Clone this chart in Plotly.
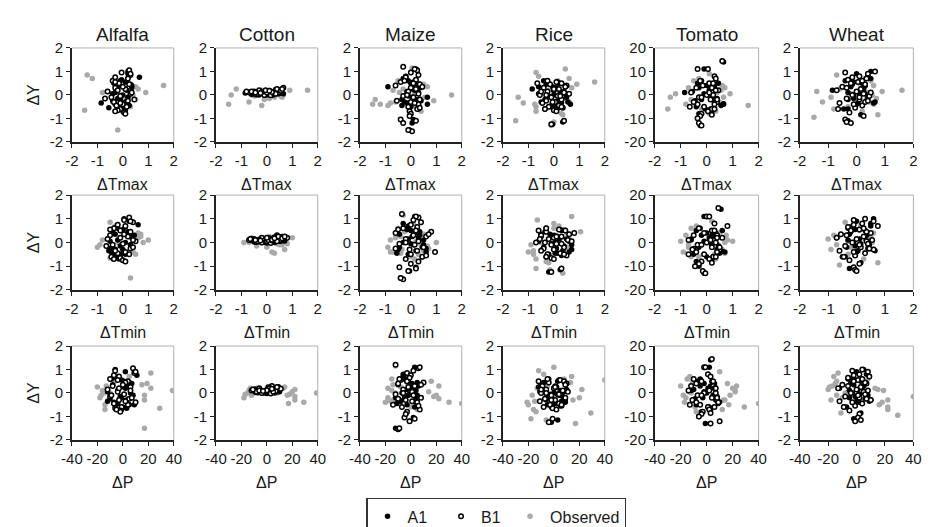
import plotly.graph_objects as go

# ---------------- labels ----------------
CROPS = ["Alfalfa", "Cotton", "Maize", "Rice", "Tomato", "Wheat"]
ROW_VARS = ["Tmax", "Tmin", "P"]
X_TITLES = ["ΔTmax", "ΔTmin", "ΔP"]
Y_TITLE = "ΔY"
SERIES = ["A1", "B1", "Observed"]
LEGEND_PAD = {"A1": "\u00a0\u00a0", "B1": "\u00a0", "Observed": ""}

T_TICKVALS = [-2, -1, 0, 1, 2]
T_TICKTEXT = ["-2", "-1", "0", "1", "2"]
P_TICKVALS = [-40, -20, 0, 20, 40]
P_TICKTEXT = ["-40", "-20", "0", "20", "40"]
Y_TICKVALS = [-2, -1, 0, 1, 2]
Y_TICKTEXT = ["-2", "-1", "0", "1", "2"]
TOMATO_Y_TICKVALS = [-20, -10, 0, 10, 20]
TOMATO_Y_TICKTEXT = ["-20", "-10", "0", "10", "20"]

# ---------------- Alfalfa ----------------
ALFALFA_A1_Y = [0.75, 0.55, 0.45, 0.35, 0.2, 0.1, 0.0, -0.1, -0.2, -0.3, -0.35, -0.4, -0.5, -0.55, -0.6, -0.7, 0.6, 0.3, -0.25, 1.0, 0.5, -0.45, 0.65, 0.4, -0.15, -0.65, 0.05, 0.25, -0.5, 0.9]
ALFALFA_A1_TMAX = [0.65, 0.1, 0.3, -0.2, 0.15, -0.3, 0.0, 0.2, -0.1, 0.1, -0.85, -0.3, 0.05, -0.55, -0.2, 0.0, -0.1, 0.35, -0.4, 0.2, -0.35, 0.25, -0.05, 0.35, -0.2, 0.1, -0.4, 0.1, -0.15, 0.2]
ALFALFA_A1_TMIN = [0.6, 0.0, 0.2, -0.3, 0.35, -0.2, 0.1, 0.3, -0.4, 0.0, -0.55, -0.45, -0.1, -0.3, -0.35, -0.15, -0.2, 0.45, -0.5, 0.05, -0.4, 0.1, 0.1, 0.3, -0.1, -0.2, -0.5, 0.2, 0.1, 0.25]
ALFALFA_A1_P = [11, -1, 5, -8, 2, -4, 6, 8, -1, 3, -12, -7, 5, -6, 0, -1, -9, 4, -10, -6, 1, -4, -8, 7, -2, 3, -12, 1, 9, 2]
ALFALFA_B1_Y = [1.05, 0.95, 0.85, 0.7, 0.6, 0.5, 0.45, 0.3, 0.25, 0.15, 0.05, -0.05, -0.15, -0.25, -0.3, -0.4, -0.45, -0.5, -0.6, -0.65, -0.75, -0.8, 0.55, -0.2, 0.9, 0.75, 0.35, 0.1, -0.1, -0.35, -0.7, 0.2]
ALFALFA_B1_TMAX = [0.25, -0.05, 0.3, 0.2, -0.4, -0.15, 0.25, -0.3, 0.1, -0.6, 0.3, -0.1, -0.7, 0.2, -0.35, 0.0, -0.25, 0.15, -0.1, -0.2, 0.05, 0.1, -0.3, 0.45, 0.3, -0.3, 0.0, 0.35, -0.45, -0.1, -0.3, -0.2]
ALFALFA_B1_TMIN = [0.25, 0.05, 0.4, 0.1, -0.35, -0.1, 0.3, -0.5, 0.2, -0.6, 0.5, 0.0, -0.65, 0.3, -0.3, 0.1, -0.2, 0.25, -0.45, -0.1, 0.0, 0.1, -0.5, 0.4, 0.3, -0.2, 0.05, 0.4, -0.4, -0.3, -0.35, -0.1]
ALFALFA_B1_P = [8, -6, 9, -3, -10, 4, 2, -8, 6, -12, -4, 1, -10, 5, -3, 10, -7, 4, -1, -6, -2, -2, -4, 7, 10, -7, 0, 6, -9, 2, -5, -3]
ALFALFA_OBS_Y = [0.85, 0.7, -0.65, -1.5, 0.4, 0.1, 0.1, 0.15, -0.2, 0.35, -0.5, 0.2, -0.3, 0.0, 0.25, -0.7, 0.5, -0.1, 0.3, -0.4, -0.1, 0.0]
ALFALFA_OBS_TMAX = [-1.4, -1.2, -1.5, -0.2, 1.6, 0.9, -0.8, -0.6, 0.5, 0.5, 0.3, 0.3, -0.4, 0.4, 0.6, -0.3, 0.2, 0.1, -0.2, 0.0, 0.2, -0.1]
ALFALFA_OBS_TMIN = [-0.5, -0.3, -0.5, 0.3, 0.6, 1.0, -0.8, -0.6, -1.0, 0.7, 0.5, 0.6, -0.3, 0.8, 0.7, -0.4, -0.1, -0.9, 0.2, 0.4, 0.3, -0.2]
ALFALFA_OBS_P = [22, 5, 29, 17, 19, 39, -16, -12, -18, 15, -14, 22, 17, -10, -20, -14, -6, -17, -13, 4, 17, -15]

# ---------------- Cotton ----------------
COTTON_A1_Y = [0.08, 0.05, 0.0, -0.02, 0.1, 0.12, 0.04, 0.07, 0.15, 0.0, 0.1, 0.05, 0.2, 0.02, 0.08, 0.25, 0.06, 0.12, 0.03, 0.1, 0.15, 0.0, 0.06, 0.12]
COTTON_A1_TMAX = [-0.85, 0.65, -0.3, -0.1, 0.1, 0.3, -0.5, 0.2, 0.4, 0.0, -0.2, 0.45, 0.55, -0.4, 0.15, 0.6, -0.05, 0.35, -0.6, -0.25, 0.05, 0.25, 0.5, -0.45]
COTTON_A1_TMIN = [-0.6, 0.5, -0.2, 0.0, 0.2, 0.4, -0.4, 0.1, 0.6, -0.1, -0.3, 0.55, 0.45, -0.5, 0.25, 0.6, 0.05, 0.35, -0.45, -0.15, 0.15, 0.3, 0.7, -0.6]
COTTON_A1_P = [-10, 8, -3, 0, 4, 6, -7, 2, 9, -1, -5, 10, 3, -8, 5, 1, -2, 7, -9, -4, 2, 6, 9, -11]
COTTON_B1_Y = [0.3, 0.22, 0.2, 0.18, 0.15, 0.12, 0.1, 0.1, 0.08, 0.05, 0.05, 0.02, 0.0, -0.02, 0.2, 0.15, 0.1, 0.08, 0.12, 0.25, 0.05, 0.18, 0.15, 0.1, 0.2, 0.05, 0.25, 0.12, 0.08, 0.18]
COTTON_B1_TMAX = [0.65, 0.35, -0.3, 0.1, -0.5, 0.2, -0.7, 0.45, -0.15, 0.05, 0.3, -0.4, -0.1, 0.15, 0.5, -0.6, 0.0, 0.25, -0.2, 0.4, -0.35, 0.55, -0.8, -0.45, -0.05, 0.35, 0.6, 0.2, -0.25, 0.1]
COTTON_B1_TMIN = [0.4, 0.3, -0.2, 0.1, -0.5, 0.25, -0.7, 0.5, -0.1, 0.0, 0.35, -0.4, -0.2, 0.15, 0.8, -0.6, 0.05, 0.2, -0.3, 0.45, -0.35, 0.6, -0.65, -0.45, 0.0, 0.4, 0.7, 0.2, -0.25, 0.3]
COTTON_B1_P = [4, 2, -6, 1, -9, 5, -12, 8, -3, 0, 6, -7, -4, 3, 10, -10, -1, 7, -5, 9, -8, 11, -11, -6, 2, 5, 8, 0, -3, 4]
COTTON_OBS_Y = [-0.4, 0.0, 0.25, -0.3, -0.45, 0.2, 0.2, 0.1, -0.05, 0.15, -0.1, 0.0, 0.2, 0.05, -0.15, -0.1, 0.1, 0.0, 0.15, -0.2, 0.0, -0.05]
COTTON_OBS_TMAX = [-1.5, -1.4, -1.2, -0.7, -0.2, 0.9, 1.6, -0.8, -0.5, 0.0, 0.3, 0.5, -0.2, -0.3, 0.1, 0.6, 0.4, -0.6, 0.2, -0.1, 0.65, 0.55]
COTTON_OBS_TMIN = [0.2, -0.9, 0.1, 0.7, 0.3, 1.0, -0.6, -0.5, 0.4, -0.3, 0.6, -0.2, 0.2, 0.75, -0.4, 0.5, -0.1, 0.3, -0.2, 0.0, -0.7, 0.8]
COTTON_OBS_P = [29, 39, 14, 22, 17, -8, 13, -14, -17, 3, 16, -10, -13, 20, 22, -12, -9, 8, 22, -18, -15, 18]

# ---------------- Maize ----------------
MAIZE_A1_Y = [1.1, 0.6, 0.5, 0.4, 0.35, 0.2, 0.1, 0.0, -0.1, -0.2, -0.3, -0.4, -0.45, -0.5, -0.1, -1.2, -1.5, 0.7, 0.3, -0.05, 0.55, -0.35, 0.8, 0.45, 0.15, -0.25, -0.6, -1.05, 0.25, -0.2]
MAIZE_A1_TMAX = [0.2, -0.1, 0.0, 0.1, -0.9, 0.15, 0.3, -0.2, 0.05, 0.2, -0.25, 0.65, -0.35, 0.0, 0.65, 0.05, -0.05, -0.3, 0.35, -0.1, 0.1, -0.15, -0.2, 0.25, -0.15, 0.4, 0.3, 0.1, 0.0, -0.35]
MAIZE_A1_TMIN = [0.15, -0.2, 0.0, 0.2, -0.45, 0.3, 0.5, -0.3, 0.1, 0.45, -0.5, 0.6, -0.55, -0.1, 0.5, -0.05, -0.4, -0.1, 0.35, 0.0, -0.15, 0.2, -0.3, 0.35, -0.1, 0.6, 0.45, 0.2, 0.05, -0.45]
MAIZE_A1_P = [3, -4, -2, 1, -10, 0, 4, -7, 5, -5, -9, 4, -11, -3, -2, -1, -12, -6, 6, -1, -4, -8, -6, 5, -3, 4, 3, 2, 1, -12]
MAIZE_B1_Y = [1.2, 1.05, 1.1, 0.85, 0.75, 0.65, 0.55, 0.45, 0.4, 0.3, 0.25, 0.15, 0.05, -0.05, -0.1, -0.2, -0.25, -0.3, -0.4, -0.5, -0.6, -0.7, -0.8, -1.05, -1.1, -1.2, -1.55, -1.5, 0.95, 0.6, 0.35, 0.0, -0.35, -0.55, -0.9, 0.5]
MAIZE_B1_TMAX = [-0.3, 0.25, 0.15, 0.3, -0.2, 0.2, -0.4, 0.35, -0.6, 0.0, 0.2, -0.1, 0.3, -0.3, 0.1, 0.35, -0.55, 0.0, 0.3, -0.1, 0.25, -0.05, 0.0, -0.4, 0.2, -0.3, 0.05, -0.1, 0.0, -0.25, 0.45, -0.15, 0.15, 0.35, -0.05, 0.1]
MAIZE_B1_TMIN = [-0.35, 0.3, 0.2, 0.4, 0.0, 0.25, -0.5, 0.8, -0.6, 0.1, 0.6, -0.2, 0.3, -0.45, 0.15, 0.5, -0.6, -0.05, 0.95, 0.0, 0.45, -0.2, 0.3, -0.45, 0.2, -0.1, -0.3, -0.4, 0.1, -0.3, 0.7, -0.2, 0.25, 0.6, 0.0, 0.2]
MAIZE_B1_P = [-12, 6, 7, -3, 0, -1, -8, 10, -10, 3, -2, -6, 1, -12, 2, 8, -10, -4, 5, -14, -7, 7, -3, -5, 3, -1, -10, -9, 2, -9, 8, -6, 1, 6, -4, -3]
MAIZE_OBS_Y = [-0.4, -0.2, -0.4, -0.45, 0.0, -0.25, 1.15, 0.6, 0.5, 0.35, 0.2, -0.1, -0.3, 0.3, -0.5, -0.7, 0.8, 0.1, -0.15, 0.45, -0.6, 0.25, -0.35, 0.05]
MAIZE_OBS_TMAX = [-1.5, -1.4, -1.2, -0.9, 1.6, 0.9, 0.05, -0.5, 0.3, 0.65, -0.7, 0.55, -0.6, 0.45, 0.2, 0.4, -0.2, -0.45, 0.35, 0.5, 0.3, -0.3, -0.8, 0.15]
MAIZE_OBS_TMIN = [-0.8, -0.9, -0.7, -0.4, 1.0, 0.7, -0.3, -0.5, -0.2, 0.5, -0.6, 0.4, -0.35, 0.6, 0.3, 0.15, 0.1, -0.8, 0.65, -0.25, 0.0, -0.4, 0.5, 0.2]
MAIZE_OBS_P = [-20, -18, 30, 40, -12, 22, -12, -15, 16, -14, -18, 20, -14, 22, -8, 5, -5, -15, 18, -3, 0, -8, -16, 14]

# ---------------- Rice ----------------
RICE_A1_Y = [0.6, 0.5, 0.45, 0.3, 0.25, 0.1, 0.0, -0.05, -0.15, -0.25, -0.3, -0.4, -0.45, -0.5, -0.6, 0.15, 0.35, -0.1, 0.05, -0.35, -1.25, -1.15, 0.55, 0.35, 0.05, -0.2, -0.45, -0.55, 0.2, -0.3]
RICE_A1_TMAX = [-0.4, 0.2, -0.3, 0.1, -0.85, 0.25, 0.0, -0.2, 0.3, 0.15, -0.5, 0.65, 0.05, -0.15, -0.35, 0.4, -0.05, 0.5, -0.6, 0.3, -0.05, 0.35, 0.15, -0.6, 0.45, -0.35, -0.1, 0.2, 0.0, 0.55]
RICE_A1_TMIN = [-0.3, 0.3, -0.35, 0.0, -0.5, 0.2, 0.05, -0.1, 0.4, 0.1, -0.45, 0.6, 0.15, -0.2, -0.3, 0.5, -0.15, 0.7, -0.6, 0.35, -0.2, 0.25, 0.25, -0.5, 0.6, -0.4, 0.05, 0.3, 0.0, 0.7]
RICE_A1_P = [-4, 3, -8, 1, -12, 5, 0, -3, 7, -1, -6, 9, 2, -5, -2, 10, -9, 4, -11, 6, -2, 3, 4, -10, 8, -6, 1, 5, 0, 9]
RICE_B1_Y = [0.55, 0.5, 0.5, 0.45, 0.4, 0.3, 0.25, 0.2, 0.15, 0.1, 0.05, 0.0, -0.05, -0.1, -0.2, -0.25, -0.3, -0.35, -0.45, -0.5, -0.55, -0.6, -0.65, -0.7, -1.25, -1.1, 0.6, 0.35, 0.15, -0.05, -0.3, -0.5, 0.25, 0.0]
RICE_B1_TMAX = [0.1, -0.65, 0.3, -0.15, 0.5, -0.4, 0.2, 0.0, -0.25, 0.4, 0.6, -0.55, 0.15, -0.1, 0.3, -0.3, 0.05, -0.45, 0.2, -0.2, 0.35, -0.35, 0.0, 0.1, -0.1, 0.4, -0.25, 0.45, -0.5, 0.25, -0.05, 0.3, 0.0, -0.3]
RICE_B1_TMIN = [0.2, -0.6, 0.45, -0.3, 0.8, -0.5, 0.3, 0.0, -0.2, 0.55, 0.7, -0.7, 0.1, -0.1, 0.4, -0.4, 0.05, -0.5, 0.25, -0.25, 0.5, -0.3, -0.1, 0.0, -0.1, 0.3, -0.3, 0.6, -0.55, 0.3, 0.0, 0.4, 0.1, -0.35]
RICE_B1_P = [5, -12, 8, -4, 10, -9, 2, 0, -6, 7, 11, -10, 3, -2, 9, -7, 1, -11, 4, -3, 6, -8, -1, 2, -4, -1, -5, 9, -10, 4, -2, 6, 1, -6]
RICE_OBS_Y = [-1.1, -0.1, -0.35, 0.55, 0.45, 1.1, 0.95, 0.8, 0.7, -0.5, -0.7, -1.3, 0.3, -0.2, 0.15, -0.8, 0.0, -0.4, 0.6, 0.4, -0.85, -1.15, 0.2, -0.3]
RICE_OBS_TMAX = [-1.5, -1.4, -1.2, 1.6, 0.9, 0.45, -0.7, -0.6, 0.6, -0.7, -0.7, -0.1, 0.7, 0.5, 0.3, 0.3, -0.3, -0.75, 0.15, 0.4, 0.35, 0.0, -0.2, 0.6]
RICE_OBS_TMIN = [-0.7, -0.9, -0.8, 0.4, 1.05, 0.7, -0.65, 0.0, 0.2, -0.8, -0.7, 0.35, 0.1, 0.55, 0.6, -0.3, -0.5, -1.0, 0.0, 0.5, -0.2, -0.15, 0.3, 0.4]
RICE_OBS_P = [-18, -17, -15, 40, 13, 0, -12, -8, 14, -20, -16, 17, -5, 20, 22, -14, -9, -21, 8, 10, 29, -6, -13, 15]

# ---------------- Tomato ----------------
TOMATO_A1_Y = [14, 11, 5, 5, 3, 2, 1, 0, -1, -2, -3, -4, -5, -6, -8, -10, -13, 1.5, -3.8, 4, -7, 2.5, 6, 4, 0.5, -1.5, -4.5, -6, 3, -2.5]
TOMATO_A1_TMAX = [0.65, -0.1, -0.35, 0.45, -0.3, 0.1, -0.85, 0.05, 0.2, -0.2, 0.3, 0.65, -0.4, 0.15, -0.3, -0.35, -0.25, -0.55, 0.65, 0.0, 0.2, 0.3, -0.2, 0.3, -0.1, 0.4, 0.55, -0.05, 0.15, -0.45]
TOMATO_A1_TMIN = [0.55, -0.1, -0.4, 0.6, -0.2, 0.1, -0.6, 0.05, 0.2, -0.3, 0.4, 0.7, -0.5, 0.25, -0.4, -0.3, -0.1, -0.6, 0.6, 0.0, 0.2, 0.3, -0.25, 0.35, -0.1, 0.45, 0.5, 0.0, 0.2, -0.5]
TOMATO_A1_P = [3, 2, -7, 4, -5, 1, -12, 0, 5, -3, 7, 9, -8, 2, -4, -6, -1, -10, 10, -2, 3, 6, -5, 6, -2, 8, 9, 1, 3, -9]
TOMATO_B1_Y = [14.5, 11, 11, 8, 7, 6, 5, 4, 3, 3, 2, 1, 0, 0, -1, -2, -3, -3, -4, -5, -5, -6, -7, -8, -9, -10, -12, -13, 5, 2, -1, -2, -4, -6, 1, -8.5]
TOMATO_B1_TMAX = [0.6, -0.35, 0.05, 0.3, 0.35, -0.25, 0.1, -0.15, 0.2, -0.4, 0.45, -0.6, 0.0, 0.25, -0.3, 0.15, -0.5, 0.4, 0.3, -0.65, -0.1, 0.2, 0.05, -0.2, -0.25, -0.35, -0.3, -0.2, 0.25, 0.35, -0.2, 0.4, -0.35, 0.3, 0.1, 0.2]
TOMATO_B1_TMIN = [0.45, 0.0, 0.1, 0.3, 0.8, -0.3, 0.2, -0.1, 0.4, -0.5, 0.6, -0.7, 0.0, 0.35, -0.35, 0.2, -0.55, 0.5, 0.4, -0.7, -0.1, 0.25, 0.1, -0.2, -0.3, -0.45, -0.15, -0.05, 0.3, 0.4, -0.2, 0.5, -0.4, 0.35, 0.15, 0.2]
TOMATO_B1_P = [4, -2, -1, 1, 3, -10, -4, -8, 5, -12, 6, -14, -2, 7, -7, 4, -11, 8, 9, -13, -5, 1, 2, -3, -4, -6, 10, 3, 5, 7, -4, 8, -8, 6, 2, 3]
TOMATO_OBS_Y = [-6, -1, 0.5, -4, -4.5, 0.5, 9, 6, 4, 3, 2, 1, -1, -2, -3, -5, -7, -8, 7, 5, 0, -6, 3, -3]
TOMATO_OBS_TMAX = [-1.5, -1.4, -1.2, -0.8, 1.6, 0.9, 0.1, -0.5, 0.6, -0.7, 0.55, 0.4, 0.65, -0.6, 0.5, 0.3, 0.35, 0.1, -0.3, 0.45, 0.25, -0.2, 0.7, -0.45]
TOMATO_OBS_TMIN = [-0.6, -0.7, -1.0, -0.9, 0.7, 1.0, 0.2, -0.6, 0.5, -0.8, 0.55, 0.8, 0.45, -0.7, 0.6, 0.3, 0.35, -0.2, -0.4, 0.6, 0.7, -0.3, 0.75, -0.5]
TOMATO_OBS_P = [29, -18, -14, -17, 40, 22, 10, -15, 16, -20, 20, 22, 18, -16, 13, 17, 12, -8, -13, -11, -12, -9, 23, 14]

# ---------------- Wheat ----------------
WHEAT_A1_Y = [1.0, 0.9, 0.7, 0.6, 0.5, 0.35, 0.2, 0.15, 0.05, 0.0, -0.1, -0.2, -0.3, -0.35, -0.4, -0.6, -0.6, -0.85, -1.1, 0.25, -0.15, 0.45, 0.8, 0.55, 0.3, 0.1, -0.25, -0.35, -0.05, 0.65]
WHEAT_A1_TMAX = [0.5, 0.0, 0.5, -0.4, 0.2, -0.2, -0.85, 0.1, 0.3, -0.1, 0.4, -0.3, 0.65, 0.05, 0.0, -0.45, -0.3, 0.15, -0.3, 0.25, -0.1, -0.15, 0.4, -0.1, 0.25, -0.3, 0.35, 0.6, 0.1, -0.25]
WHEAT_A1_TMIN = [0.6, 0.0, 0.5, -0.3, 0.3, -0.25, -0.7, 0.1, 0.4, -0.1, 0.45, -0.35, 0.6, 0.05, 0.0, -0.5, -0.4, 0.15, -0.25, 0.3, -0.05, -0.2, 0.5, -0.05, 0.35, -0.3, 0.4, 0.65, 0.15, -0.2]
WHEAT_A1_P = [5, 0, 9, -6, 3, -2, -12, 1, 6, -3, 8, -5, 10, 0, 2, -9, -7, 3, -2, 4, -1, -4, 7, -1, 5, -5, 6, 9, 2, -3]
WHEAT_B1_Y = [1.0, 0.95, 0.9, 0.8, 0.7, 0.65, 0.55, 0.5, 0.4, 0.35, 0.25, 0.2, 0.15, 0.05, 0.0, -0.05, -0.15, -0.2, -0.3, -0.35, -0.45, -0.55, -0.6, -0.75, -0.9, -1.05, -1.15, -1.2, 0.75, 0.45, 0.3, 0.1, -0.1, -0.25, -0.4, 0.6]
WHEAT_B1_TMAX = [0.65, -0.4, 0.4, 0.1, 0.35, -0.3, 0.05, -0.2, 0.3, -0.5, 0.15, -0.7, 0.0, 0.25, -0.15, 0.45, -0.35, 0.1, 0.3, -0.6, 0.2, -0.05, -0.65, -0.25, 0.25, -0.4, -0.35, -0.2, -0.15, 0.3, -0.35, 0.5, 0.1, 0.4, -0.1, 0.2]
WHEAT_B1_TMIN = [0.3, -0.1, 0.6, 0.2, 0.75, -0.3, 0.1, -0.2, 0.5, -0.55, 0.25, -0.7, 0.0, 0.35, -0.15, 0.4, -0.4, 0.15, 0.6, -0.6, 0.3, -0.05, -0.45, -0.25, 0.1, -0.1, -0.05, 0.0, -0.1, 0.35, -0.35, 0.55, 0.1, 0.45, -0.1, 0.25]
WHEAT_B1_P = [4, -3, 8, 2, 9, -6, 1, -2, 7, -10, 3, -13, 0, 5, -4, 6, -8, 2, 10, -12, 4, -1, -9, -5, 2, 1, 3, -1, -2, 6, -6, 8, 1, 7, -3, 4]
WHEAT_OBS_Y = [-0.95, 0.15, -0.3, -0.6, 0.15, 0.2, -0.1, 0.85, 0.6, 0.4, 0.3, 0.1, 0.0, -0.2, -0.4, -0.5, -0.7, -0.85, 0.5, -0.15, 0.25, 0.7, -0.3, 0.05]
WHEAT_OBS_TMAX = [-1.5, -1.4, -1.2, -0.8, 0.9, 1.6, -0.9, -0.7, 0.5, 0.6, -0.5, 0.4, 0.55, 0.35, 0.6, -0.3, 0.2, 0.75, 0.1, 0.7, -0.6, 0.3, 0.45, -0.2]
WHEAT_OBS_TMIN = [-0.6, -1.0, -0.9, -0.5, 0.3, 0.5, -0.7, -0.4, 0.2, 0.6, -0.8, 0.35, 0.55, -0.2, 0.3, -0.3, 0.25, 0.75, 0.1, 0.4, -0.65, 0.15, 0.45, -0.3]
WHEAT_OBS_P = [29, -20, -18, 22, 15, 13, -14, -13, 8, -15, -17, 19, -8, -10, 18, 16, 22, -11, -14, 40, -19, -16, 22, -6]

# ---------------- assemble ----------------
def series(y, tmax, tmin, p):
    return {"Y": y, "Tmax": tmax, "Tmin": tmin, "P": p}

DATA = {
    "Alfalfa": {
        "A1": series(ALFALFA_A1_Y, ALFALFA_A1_TMAX, ALFALFA_A1_TMIN, ALFALFA_A1_P),
        "B1": series(ALFALFA_B1_Y, ALFALFA_B1_TMAX, ALFALFA_B1_TMIN, ALFALFA_B1_P),
        "Observed": series(ALFALFA_OBS_Y, ALFALFA_OBS_TMAX, ALFALFA_OBS_TMIN, ALFALFA_OBS_P),
    },
    "Cotton": {
        "A1": series(COTTON_A1_Y, COTTON_A1_TMAX, COTTON_A1_TMIN, COTTON_A1_P),
        "B1": series(COTTON_B1_Y, COTTON_B1_TMAX, COTTON_B1_TMIN, COTTON_B1_P),
        "Observed": series(COTTON_OBS_Y, COTTON_OBS_TMAX, COTTON_OBS_TMIN, COTTON_OBS_P),
    },
    "Maize": {
        "A1": series(MAIZE_A1_Y, MAIZE_A1_TMAX, MAIZE_A1_TMIN, MAIZE_A1_P),
        "B1": series(MAIZE_B1_Y, MAIZE_B1_TMAX, MAIZE_B1_TMIN, MAIZE_B1_P),
        "Observed": series(MAIZE_OBS_Y, MAIZE_OBS_TMAX, MAIZE_OBS_TMIN, MAIZE_OBS_P),
    },
    "Rice": {
        "A1": series(RICE_A1_Y, RICE_A1_TMAX, RICE_A1_TMIN, RICE_A1_P),
        "B1": series(RICE_B1_Y, RICE_B1_TMAX, RICE_B1_TMIN, RICE_B1_P),
        "Observed": series(RICE_OBS_Y, RICE_OBS_TMAX, RICE_OBS_TMIN, RICE_OBS_P),
    },
    "Tomato": {
        "A1": series(TOMATO_A1_Y, TOMATO_A1_TMAX, TOMATO_A1_TMIN, TOMATO_A1_P),
        "B1": series(TOMATO_B1_Y, TOMATO_B1_TMAX, TOMATO_B1_TMIN, TOMATO_B1_P),
        "Observed": series(TOMATO_OBS_Y, TOMATO_OBS_TMAX, TOMATO_OBS_TMIN, TOMATO_OBS_P),
    },
    "Wheat": {
        "A1": series(WHEAT_A1_Y, WHEAT_A1_TMAX, WHEAT_A1_TMIN, WHEAT_A1_P),
        "B1": series(WHEAT_B1_Y, WHEAT_B1_TMAX, WHEAT_B1_TMIN, WHEAT_B1_P),
        "Observed": series(WHEAT_OBS_Y, WHEAT_OBS_TMAX, WHEAT_OBS_TMIN, WHEAT_OBS_P),
    },
}

# ---------------- layout geometry (pixels) ----------------
W, H = 931, 527
COL_PX = [(54, 158), (201, 305), (348, 452), (494, 598), (649, 755), (797, 913)]
ROW_PX = [(32, 129), (184, 282), (340, 437)]

FONT = "Liberation Sans, Arial, sans-serif"
TXT = "#1a1a1a"

MARKERS = {
    "Observed": dict(size=5.5, color="#a9a9a9", line=dict(width=0)),
    "A1": dict(size=5.5, color="#000000", line=dict(width=0)),
    "B1": dict(size=4.5, color="#ffffff", line=dict(width=1.5, color="#000000")),
}

fig = go.Figure()
layout = {}
shapes = []
annotations = []

n = 0
for r, var in enumerate(ROW_VARS):
    for c, crop in enumerate(CROPS):
        n += 1
        xa = "x" if n == 1 else f"x{n}"
        ya = "y" if n == 1 else f"y{n}"
        for s in ["Observed", "A1", "B1"]:
            d = DATA[crop][s]
            fig.add_trace(go.Scatter(
                x=d[var], y=d["Y"], mode="markers", name=s,
                marker=MARKERS[s], xaxis=xa, yaxis=ya,
                showlegend=False, hoverinfo="skip",
            ))
        x0, x1 = COL_PX[c]
        t0, t1 = ROW_PX[r]
        if var == "P":
            xr, xtv, xtt = [-40, 40], P_TICKVALS, P_TICKTEXT
        else:
            xr, xtv, xtt = [-2, 2], T_TICKVALS, T_TICKTEXT
        if crop == "Tomato":
            yr, ytv, ytt = [-20, 20], TOMATO_Y_TICKVALS, TOMATO_Y_TICKTEXT
        else:
            yr, ytv, ytt = [-2, 2], Y_TICKVALS, Y_TICKTEXT
        common = dict(showgrid=False, zeroline=False, showline=True, linecolor="#222222",
                      linewidth=1.5, ticks="outside", ticklen=4, tickwidth=1, tickcolor="#222222",
                      tickfont=dict(family=FONT, size=15, color=TXT), fixedrange=True)
        layout["xaxis" if n == 1 else f"xaxis{n}"] = dict(
            domain=[x0 / W, x1 / W], range=xr, tickmode="array", tickvals=xtv, ticktext=xtt,
            anchor=ya, **common)
        layout["yaxis" if n == 1 else f"yaxis{n}"] = dict(
            domain=[1 - t1 / H, 1 - t0 / H], range=yr, tickmode="array", tickvals=ytv, ticktext=ytt,
            anchor=xa, **common)
        # light top / right frame
        shapes.append(dict(type="line", xref=f"{xa} domain", yref=f"{ya} domain",
                           x0=0, x1=1, y0=1, y1=1, line=dict(color="#b0b0b0", width=1)))
        shapes.append(dict(type="line", xref=f"{xa} domain", yref=f"{ya} domain",
                           x0=1, x1=1, y0=0, y1=1, line=dict(color="#b0b0b0", width=1)))
        # x-axis title
        annotations.append(dict(text=X_TITLES[r], x=(x0 + x1) / 2 / W, y=1 - (t1 + 44) / H,
                                xref="paper", yref="paper", showarrow=False,
                                xanchor="center", yanchor="middle",
                                font=dict(family=FONT, size=16, color=TXT)))
        if r == 0:
            annotations.append(dict(text=crop, x=(x0 + x1) / 2 / W, y=1 - 18 / H,
                                    xref="paper", yref="paper", showarrow=False,
                                    xanchor="center", yanchor="middle",
                                    font=dict(family=FONT, size=19, color=TXT)))
        if c == 0:
            annotations.append(dict(text=Y_TITLE, x=15 / W, y=1 - (t0 + t1) / 2 / H,
                                    xref="paper", yref="paper", showarrow=False, textangle=-90,
                                    xanchor="center", yanchor="middle",
                                    font=dict(family=FONT, size=16, color=TXT)))

# legend entries
for s in SERIES:
    fig.add_trace(go.Scatter(x=[None], y=[None], mode="markers", name=s + LEGEND_PAD[s],
                             marker=MARKERS[s], showlegend=True, xaxis="x", yaxis="y"))

fig.update_layout(
    **layout,
    shapes=shapes,
    annotations=annotations,
    width=W, height=H,
    margin=dict(l=0, r=0, t=0, b=0),
    paper_bgcolor="white", plot_bgcolor="white",
    font=dict(family=FONT, color=TXT),
    legend=dict(orientation="h", x=487 / W, y=1 - 497 / H, xanchor="center", yanchor="top",
                bordercolor="#333333", borderwidth=1.5, bgcolor="white",
                font=dict(family=FONT, size=16, color=TXT),
                itemclick=False, itemdoubleclick=False, traceorder="normal"),
    showlegend=True,
)

fig.write_html("out.html")
